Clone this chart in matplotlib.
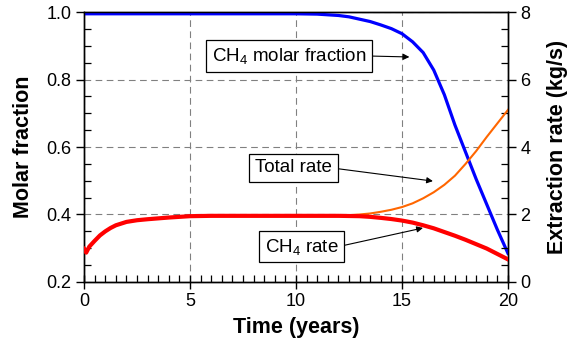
import numpy as np
import matplotlib
matplotlib.use("Agg")
import matplotlib.pyplot as plt
from matplotlib.ticker import MultipleLocator

plt.rcParams["font.family"] = ["Liberation Sans", "DejaVu Sans"]
plt.rcParams["mathtext.fontset"] = "custom"
plt.rcParams["mathtext.rm"] = "Liberation Sans"
plt.rcParams["mathtext.default"] = "rm"

# time in years
years = [0, 0.1, 0.25, 0.5, 0.75, 1, 1.25, 1.5, 2, 2.5, 3, 4, 5, 6, 7, 8, 9,
         10, 11, 12, 12.5, 13, 13.5, 14, 14.5, 15, 15.5, 16, 16.5, 17, 17.5,
         18, 18.5, 19, 19.5, 20]

# methane molar fraction (left axis)
ch4_fraction = [0.995, 0.995, 0.995, 0.995, 0.995, 0.995, 0.995, 0.995, 0.995,
                0.995, 0.995, 0.995, 0.995, 0.995, 0.995, 0.995, 0.995, 0.995,
                0.994, 0.99, 0.986, 0.979, 0.972, 0.962, 0.951, 0.936, 0.912,
                0.88, 0.828, 0.755, 0.665, 0.585, 0.505, 0.43, 0.355, 0.285]

# extraction rates in kg/s (right axis)
ch4_rate = [0.98, 0.87, 1.05, 1.22, 1.38, 1.5, 1.6, 1.68, 1.78, 1.83, 1.86,
            1.91, 1.95, 1.96, 1.96, 1.96, 1.96, 1.96, 1.96, 1.96, 1.955, 1.95,
            1.93, 1.9, 1.865, 1.82, 1.76, 1.68, 1.59, 1.48, 1.37, 1.25, 1.12,
            0.99, 0.83, 0.67]
total_rate = [0.98, 0.87, 1.05, 1.22, 1.38, 1.5, 1.6, 1.68, 1.78, 1.83, 1.86,
              1.91, 1.95, 1.96, 1.96, 1.96, 1.96, 1.96, 1.96, 1.97, 1.98, 2.0,
              2.03, 2.08, 2.14, 2.22, 2.33, 2.48, 2.66, 2.88, 3.15, 3.5, 3.88,
              4.3, 4.7, 5.1]

fig = plt.figure(figsize=(5.72, 3.56), dpi=100)
ax = fig.add_axes([0.147, 0.208, 0.741, 0.758])
ax2 = ax.twinx()

ax.plot(years, ch4_fraction, color="#0000ff", lw=2.3, zorder=3)
ax2.plot(years, total_rate, color="#ff6600", lw=1.5, zorder=2)
ax2.plot(years, ch4_rate, color="#ff0000", lw=3.0, zorder=3)

ax.set_xlim(0, 20)
ax.set_ylim(0.2, 1.0)
ax2.set_ylim(0, 8)

ax.xaxis.set_major_locator(MultipleLocator(5))
ax.xaxis.set_minor_locator(MultipleLocator(0.5))
ax.yaxis.set_major_locator(MultipleLocator(0.2))
ax.yaxis.set_minor_locator(MultipleLocator(0.05))
ax2.yaxis.set_major_locator(MultipleLocator(2))
ax2.yaxis.set_minor_locator(MultipleLocator(0.5))

ax.tick_params(axis="x", which="major", direction="inout", length=10, width=1,
               labelsize=13, pad=3)
ax.tick_params(axis="y", which="major", direction="out", length=6, width=1,
               labelsize=13, pad=3)
ax.tick_params(which="minor", direction="in", length=5, width=0.9)
ax2.tick_params(axis="y", which="major", direction="out", length=6, width=1,
                labelsize=13, pad=3)
ax2.tick_params(axis="y", which="minor", direction="in", length=5, width=0.9)

ax.grid(True, which="major", color="#808080", ls=(0, (6, 4)), lw=0.8)
ax.set_axisbelow(True)

for a in (ax, ax2):
    for s in a.spines.values():
        s.set_linewidth(1.0)

ax.set_xlabel("Time (years)", fontsize=15.5, fontweight="bold", labelpad=5)
ax.set_ylabel("Molar fraction", fontsize=15.5, fontweight="bold", labelpad=9)
ax2.set_ylabel("Extraction rate (kg/s)", fontsize=15.5, fontweight="bold",
               labelpad=12)

box = dict(boxstyle="square,pad=0.3", fc="white", ec="black", lw=0.9)
arrow = dict(arrowstyle="-|>", color="black", lw=0.8, mutation_scale=9,
             relpos=(1, 0.5), shrinkA=0, shrinkB=0)

ax.annotate("CH$_4$ molar fraction", xy=(15.35, 0.867), xytext=(9.69, 0.870),
            ha="center", va="center", fontsize=13.5, bbox=box,
            arrowprops=arrow, zorder=5)
ax2.annotate("Total rate", xy=(16.46, 2.99), xytext=(9.88, 3.38),
             ha="center", va="center", fontsize=13.5, bbox=box,
             arrowprops=arrow, zorder=5)
ax2.annotate("CH$_4$ rate", xy=(15.99, 1.6), xytext=(10.28, 1.05),
             ha="center", va="center", fontsize=13.5, bbox=box,
             arrowprops=arrow, zorder=5)

fig.savefig("out.png", dpi=100)
